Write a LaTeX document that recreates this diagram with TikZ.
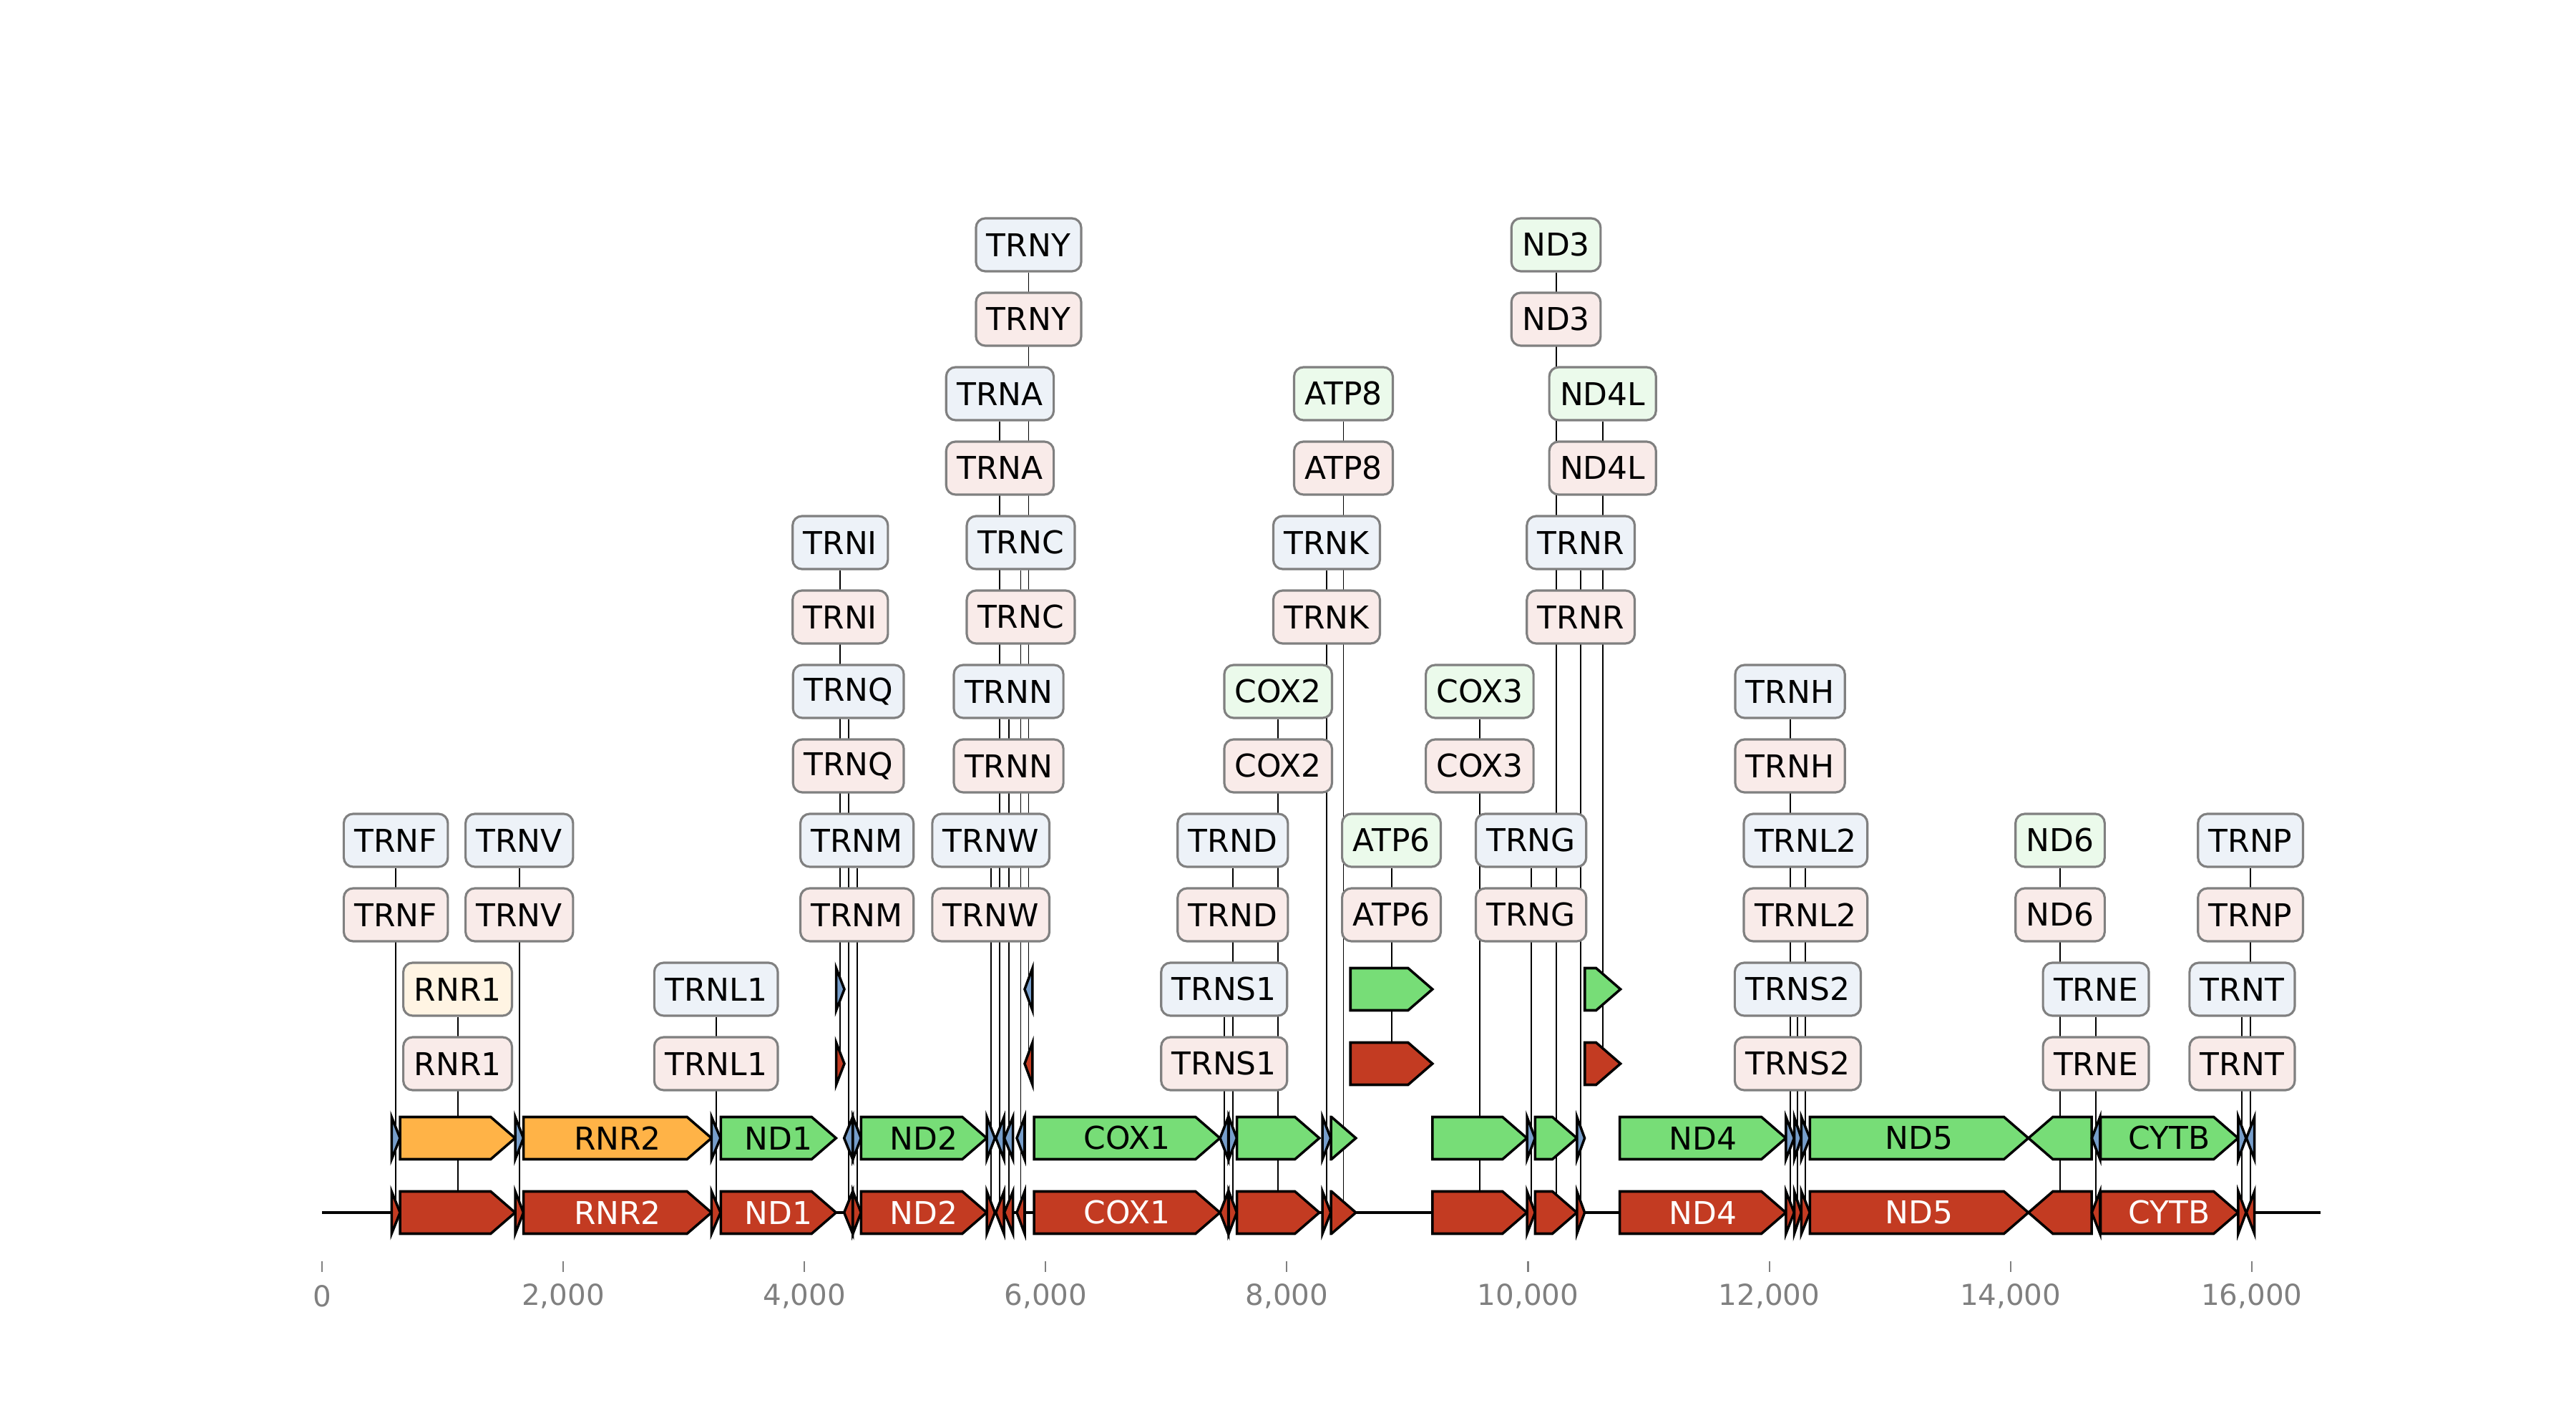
\documentclass[tikz,border=0pt]{standalone}
\usepackage{fontspec}
\setmainfont{DejaVu Sans}
\usetikzlibrary{positioning,calc}
\pgfdeclarelayer{leaders}
\pgfsetlayers{leaders,main}

\definecolor{featred}{RGB}{195,59,34}
\definecolor{featgreen}{RGB}{119,221,119}
\definecolor{featblue}{RGB}{119,158,203}
\definecolor{featorange}{RGB}{255,179,71}
\definecolor{labgray}{RGB}{128,128,128}
\definecolor{tickgray}{RGB}{128,128,128}
\colorlet{labred}{featred!10}
\colorlet{labblue}{featblue!13}
\colorlet{labgreen}{featgreen!15}
\colorlet{laborange}{featorange!15}

\newcommand{\lbfont}{\fontsize{12.5}{15}\selectfont}
\newcommand{\tkfont}{\fontsize{11.5}{14}\selectfont}

% feature arrow: name, start, end (kbp), strand, level, colour
\newcommand{\feature}[6]{%
  \pgfmathsetmacro{\hd}{min(0.202,#3-#2)}%
  \pgfmathsetmacro{\yc}{1.04*(#5)}%
  \ifnum#4>0
    \draw[feat, fill=#6] (#2,\yc+0.295) -- ({#3-\hd},\yc+0.295) -- (#3,\yc) -- ({#3-\hd},\yc-0.295) -- (#2,\yc-0.295) -- cycle;
  \else
    \draw[feat, fill=#6] (#3,\yc+0.295) -- ({#2+\hd},\yc+0.295) -- (#2,\yc) -- ({#2+\hd},\yc-0.295) -- (#3,\yc-0.295) -- cycle;
  \fi
  \coordinate (#1) at ({(#2+#3)/2},\yc);%
}

% boxed label above a feature: name, level coordinate, fill, text
\newcommand{\flabel}[4]{%
  \node[lab, fill=#3] (#1-lab) at (#1 |- #2) {#4};%
  \begin{pgfonlayer}{leaders}\draw[leader] (#1-lab) -- (#1);\end{pgfonlayer}%
}

\begin{document}
\begin{tikzpicture}[
  feat/.style={draw=black, line width=1pt},
  lab/.style={draw=labgray, line width=0.9pt, rounded corners=1.3mm, inner xsep=1.5mm, inner ysep=0pt, minimum height=7.4mm, font=\lbfont},
  leader/.style={draw=black, line width=0.55pt},
  inline/.style={font=\lbfont, inner sep=0pt},
  backbone/.style={draw=black, line width=1.2pt},
  tick/.style={draw=tickgray, line width=0.6pt},
  ticklab/.style={font=\tkfont, text=tickgray, inner sep=0pt}
]
\useasboundingbox (0,0) rectangle (36,19.8);

\begin{scope}[shift={(4.5cm,2.86cm)}, x=1.6855cm, y=1cm]

% label rows
\foreach \p in {1,...,6} {
  \coordinate (pin\p) at (0,{2.08*\p});
  \coordinate (col\p) at (0,{1.04*(2*\p+1)});
}

\draw[backbone] (0,0) -- (16.569,0);

% genome features (upper track coloured, lower track red)
\foreach \nm/\s/\e/\st/\lv/\col in {
  TRNF/0.577/0.647/1/1/featblue, RNR1/0.648/1.601/1/1/featorange,
  TRNV/1.602/1.670/1/1/featblue, RNR2/1.671/3.229/1/1/featorange,
  TRNL1/3.230/3.304/1/1/featblue, ND1/3.307/4.262/1/1/featgreen,
  TRNI/4.263/4.331/1/3/featblue, TRNQ/4.329/4.400/-1/1/featblue,
  TRNM/4.402/4.469/1/1/featblue, ND2/4.470/5.511/1/1/featgreen,
  TRNW/5.512/5.579/1/1/featblue, TRNA/5.587/5.655/-1/1/featblue,
  TRNN/5.657/5.729/-1/1/featblue, TRNC/5.761/5.826/-1/1/featblue,
  TRNY/5.826/5.891/-1/3/featblue, COX1/5.904/7.445/1/1/featgreen,
  TRNS1/7.446/7.514/-1/1/featblue, TRND/7.518/7.585/1/1/featblue,
  COX2/7.586/8.269/1/1/featgreen, TRNK/8.295/8.364/1/1/featblue,
  ATP8/8.366/8.572/1/1/featgreen, ATP6/8.527/9.207/1/3/featgreen,
  COX3/9.207/9.990/1/1/featgreen, TRNG/9.991/10.058/1/1/featblue,
  ND3/10.059/10.404/1/1/featgreen, TRNR/10.405/10.469/1/1/featblue,
  ND4L/10.470/10.766/1/3/featgreen, ND4/10.760/12.137/1/1/featgreen,
  TRNH/12.138/12.206/1/1/featblue, TRNS2/12.207/12.265/1/1/featblue,
  TRNL2/12.266/12.336/1/1/featblue, ND5/12.337/14.148/1/1/featgreen,
  ND6/14.149/14.673/-1/1/featgreen, TRNE/14.674/14.742/-1/1/featblue,
  CYTB/14.747/15.887/1/1/featgreen, TRNT/15.888/15.953/1/1/featblue,
  TRNP/15.956/16.023/-1/1/featblue} {
  \feature{\nm a}{\s}{\e}{\st}{\lv}{\col}
  \feature{\nm b}{\s}{\e}{\st}{\lv-1}{featred}
}

% names printed inside the long features
\foreach \nm in {RNR2,ND1,ND2,COX1,ND4,ND5,CYTB} {
  \node[inline] (\nm a-txt) at (\nm a) {\nm};
  \node[inline, text=white] (\nm b-txt) at (\nm b) {\nm};
}

% boxed labels, one pair per feature
\foreach \nm/\p/\fc in {
  RNR1/1/laborange, TRNL1/1/labblue, TRNS1/1/labblue, TRNS2/1/labblue, TRNE/1/labblue, TRNT/1/labblue,
  TRNF/2/labblue, TRNV/2/labblue, TRNM/2/labblue, TRNW/2/labblue, TRND/2/labblue,
  ATP6/2/labgreen, TRNG/2/labblue, TRNL2/2/labblue, ND6/2/labgreen, TRNP/2/labblue,
  TRNQ/3/labblue, TRNN/3/labblue, COX2/3/labgreen, COX3/3/labgreen, TRNH/3/labblue,
  TRNI/4/labblue, TRNC/4/labblue, TRNK/4/labblue, TRNR/4/labblue,
  TRNA/5/labblue, ATP8/5/labgreen, ND4L/5/labgreen,
  TRNY/6/labblue, ND3/6/labgreen} {
  \flabel{\nm b}{pin\p}{labred}{\nm}
  \flabel{\nm a}{col\p}{\fc}{\nm}
}

% axis
\foreach \t/\lab in {0/0, 2/{2,000}, 4/{4,000}, 6/{6,000}, 8/{8,000}, 10/{10,000}, 12/{12,000}, 14/{14,000}, 16/{16,000}} {
  \draw[tick] (\t,-0.68) -- (\t,-0.83);
  \node[ticklab] (tick\t) at (\t,-1.17) {\lab};
}
\end{scope}
\end{tikzpicture}
\end{document}
